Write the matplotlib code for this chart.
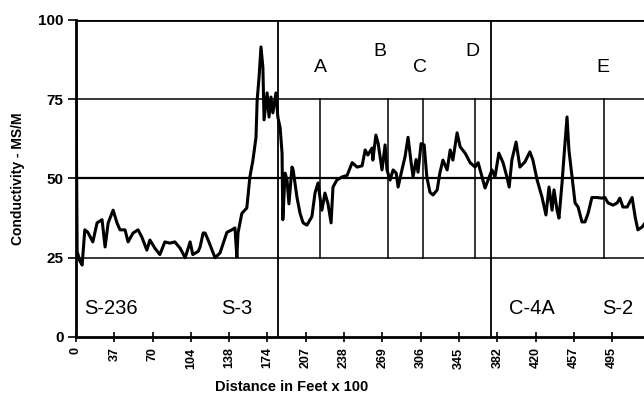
#!/usr/bin/env python
'''Conductivity profile along the survey line.'''

import matplotlib
matplotlib.use('Agg')
import matplotlib.pyplot as plt

plt.rcParams['font.family'] = ['Liberation Sans', 'DejaVu Sans']

# tick labels of the category axis (distance in feet x 100)
tick_labels = ['0', '37', '70', '104', '138', '174', '207', '238', '269',
               '306', '345', '382', '420', '457', '495']

# survey readings, position in category units and conductivity in MS/M
position = [0.00, 0.03, 0.10, 0.16, 0.23, 0.31, 0.44, 0.55, 0.68, 0.76,
            0.84, 0.97, 1.07, 1.15, 1.28, 1.36, 1.49, 1.62, 1.72, 1.85,
            1.93, 2.06, 2.19, 2.32, 2.45, 2.58, 2.72, 2.85, 2.98, 3.05,
            3.19, 3.24, 3.32, 3.37, 3.45, 3.63, 3.76, 3.94, 4.07, 4.15,
            4.20, 4.23, 4.33, 4.46, 4.54, 4.62, 4.70, 4.73, 4.78, 4.83,
            4.88, 4.91, 4.99, 5.04, 5.09, 5.14, 5.22, 5.27, 5.33, 5.38,
            5.40, 5.46, 5.51, 5.56, 5.64, 5.67, 5.77, 5.85, 5.93, 6.03,
            6.16, 6.24, 6.32, 6.37, 6.42, 6.50, 6.58, 6.66, 6.71, 6.81,
            6.95, 7.08, 7.21, 7.34, 7.47, 7.55, 7.62, 7.73, 7.75, 7.83,
            7.89, 7.99, 8.07, 8.12, 8.20, 8.28, 8.36, 8.41, 8.51, 8.59,
            8.67, 8.75, 8.80, 8.88, 8.93, 9.01, 9.09, 9.16, 9.24, 9.32,
            9.43, 9.50, 9.58, 9.69, 9.77, 9.84, 9.95, 10.03, 10.16, 10.29,
            10.42, 10.50, 10.60, 10.68, 10.76, 10.86, 10.94, 11.04, 11.15, 11.25,
            11.31, 11.38, 11.49, 11.59, 11.72, 11.85, 11.93, 12.04, 12.17, 12.27,
            12.35, 12.43, 12.48, 12.56, 12.61, 12.69, 12.74, 12.82, 12.87, 12.95,
            13.03, 13.11, 13.21, 13.29, 13.37, 13.47, 13.60, 13.73, 13.81, 13.89,
            14.02, 14.13, 14.20, 14.28, 14.39, 14.52, 14.60, 14.67, 14.78, 14.86]
conductivity = [81.0, 27.0, 24.0, 22.7, 33.8, 33.0, 30.0, 36.0, 37.0, 28.4,
                36.0, 40.0, 36.0, 33.8, 33.8, 30.0, 32.8, 33.8, 31.5, 27.4,
                30.6, 28.0, 26.0, 30.0, 29.6, 30.0, 28.0, 25.0, 30.0, 26.0,
                27.0, 28.4, 32.8, 32.8, 30.6, 25.0, 26.5, 33.0, 33.8, 34.4,
                25.2, 32.8, 39.0, 40.7, 50.5, 55.8, 63.0, 74.8, 82.0, 91.5,
                85.0, 68.5, 77.0, 69.4, 75.7, 70.7, 77.0, 69.4, 66.0, 58.0,
                37.0, 51.7, 49.5, 42.0, 53.6, 52.7, 44.0, 39.0, 36.0, 35.3,
                38.0, 45.4, 48.6, 44.0, 40.0, 45.4, 42.0, 36.0, 47.3, 49.5,
                50.5, 51.0, 55.0, 53.6, 54.0, 59.0, 57.4, 59.6, 55.8, 63.7,
                61.0, 52.7, 60.6, 52.7, 49.5, 52.7, 51.7, 47.3, 52.7, 56.8,
                63.0, 55.0, 50.5, 56.0, 52.0, 61.0, 60.6, 50.5, 45.7, 44.8,
                46.4, 51.7, 55.8, 52.7, 59.0, 55.8, 64.4, 60.0, 58.0, 55.0,
                53.6, 55.0, 50.5, 47.0, 49.5, 52.7, 50.5, 58.0, 55.0, 50.5,
                47.3, 55.8, 61.5, 53.6, 55.2, 58.4, 55.8, 49.5, 44.0, 38.5,
                47.3, 40.0, 46.4, 40.0, 37.5, 48.6, 56.8, 69.4, 59.0, 50.5,
                42.3, 41.0, 36.3, 36.3, 39.0, 44.0, 44.0, 43.8, 44.0, 42.3,
                41.6, 42.3, 43.8, 41.0, 41.0, 44.0, 37.8, 33.8, 34.7, 36.0]

# well / station boundaries (full height) and their labels
station_lines = [5.27, 10.84]
station_names = ['S-236', 'S-3', 'C-4A', 'S-2']
station_label_x = [0.91, 4.20, 11.91, 14.15]

# sample points A..E (drawn between 25 and 75)
sample_lines = [6.37, 8.15, 9.06, 10.42, 13.79]
sample_names = ['A', 'B', 'C', 'D', 'E']
sample_label_x = [6.37, 7.94, 8.98, 10.34, 13.76]
sample_label_y = [85, 90, 85, 90, 85]

fig = plt.figure(figsize=(6.44, 4.03), dpi=100)
ax = fig.add_axes([0.118, 0.1638, 0.882, 0.7866])

# horizontal grid lines
for level, lw in [(25, 1.1), (50, 1.6), (75, 1.1), (100, 2.0)]:
    ax.axhline(level, color='k', linewidth=lw, zorder=1)

# vertical markers
for xv in station_lines:
    ax.axvline(xv, color='k', linewidth=1.3, zorder=1)
for xv in sample_lines:
    ax.plot([xv, xv], [25, 75], color='k', linewidth=1.1, zorder=1)

# the conductivity trace
ax.plot(position, conductivity, color='k', linewidth=2.2, zorder=3)

# labels inside the plot
for name, xv in zip(station_names, station_label_x):
    ax.text(xv, 9, name, fontsize=14.5, ha='center', va='center')
for name, xv, yv in zip(sample_names, sample_label_x, sample_label_y):
    ax.text(xv, yv, name, fontsize=14, ha='center', va='center')

# axes limits and ticks
ax.set_xlim(0, 14.83)
ax.set_ylim(0, 100)
ax.set_xticks(range(len(tick_labels)))
ax.set_xticklabels(tick_labels, rotation=90, fontsize=9, fontweight='bold')
ax.set_yticks([0, 25, 50, 75, 100])
ax.set_yticklabels(['0', '25', '50', '75', '100'], fontsize=11, fontweight='bold')
ax.tick_params(axis='x', direction='inout', length=7, width=1.2, pad=4)
ax.tick_params(axis='y', direction='out', length=6, width=1.2, pad=3)

# only left and bottom spines
ax.spines['top'].set_visible(False)
ax.spines['right'].set_visible(False)
ax.spines['left'].set_linewidth(2)
ax.spines['bottom'].set_linewidth(2)

ax.set_ylabel('Conductivity - MS/M', fontsize=10, fontweight='bold', labelpad=9)
fig.text(0.453, 0.04, 'Distance in Feet x 100', fontsize=10.5, fontweight='bold',
         ha='center', va='center')

fig.savefig('out.png', dpi=100)
